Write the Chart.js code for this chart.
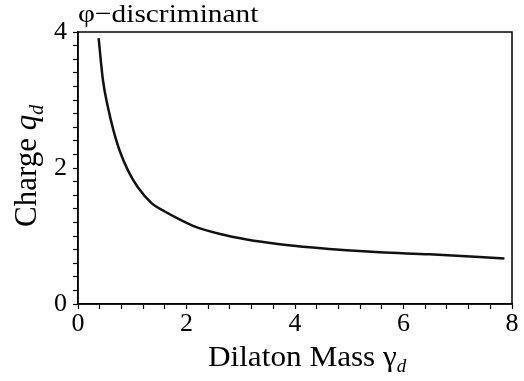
<!DOCTYPE html>
<html>
<head>
<meta charset="utf-8">
<script src="https://cdn.jsdelivr.net/npm/chart.js@4"></script>
<style>
  html, body { margin: 0; padding: 0; background: #fff; }
  #wrap { width: 524px; height: 381px; }
</style>
</head>
<body>
<div id="wrap"><canvas id="grafico"></canvas></div>
<script>
// dados
const massa = [0.38, 0.46, 0.55, 0.645, 0.77, 0.93, 1.10, 1.36, 1.60, 1.88, 2.12, 2.62, 3.11, 3.72, 4.33, 4.95, 5.56, 6.48, 7.86];
const carga = [3.91, 3.29, 2.90, 2.58, 2.25, 1.95, 1.72, 1.48, 1.36, 1.24, 1.15, 1.03, 0.95, 0.88, 0.83, 0.79, 0.76, 0.73, 0.67];
const ticksX = [0, 2, 4, 6, 8];
const ticksY = [0, 2, 4];
const titulo = "φ−discriminant";

const serif = '"Liberation Serif", "Times New Roman", serif';

// rotulo so nos ticks principais
const rotulo = (lista) => (v) => {
  const achou = lista.find((t) => Math.abs(t - v) < 1e-6);
  return achou === undefined ? "" : String(achou);
};

// texto esticado na horizontal (a figura original e mais larga)
function texto(ctx, s, x, y, sx) {
  ctx.save();
  ctx.translate(x, y);
  ctx.scale(sx, 1);
  ctx.fillText(s, 0, 0);
  ctx.restore();
  return ctx.measureText(s).width * sx;
}

// moldura + textos com subscrito
const extras = {
  id: "extras",
  afterDraw(chart) {
    const { ctx, chartArea: a } = chart;
    ctx.save();
    ctx.strokeStyle = "#000";
    ctx.lineWidth = 1.5;
    ctx.strokeRect(a.left, a.top, a.right - a.left, a.bottom - a.top);

    ctx.fillStyle = "#000";
    ctx.textBaseline = "alphabetic";
    ctx.textAlign = "left";

    // titulo
    ctx.font = "26px " + serif;
    texto(ctx, titulo, a.left, a.top - 10, 1.13);

    // titulo eixo x
    const x0 = a.left + 130;
    const yb = a.bottom + 62;
    ctx.font = "30px " + serif;
    const w = texto(ctx, "Dilaton Mass γ", x0, yb, 1.04);
    ctx.font = "italic 19px " + serif;
    ctx.fillText("d", x0 + w, yb + 6);

    // titulo eixo y
    ctx.translate(36, a.bottom - 77);
    ctx.rotate(-Math.PI / 2);
    ctx.font = "31px " + serif;
    ctx.fillText("Charge ", 0, 0);
    let p = ctx.measureText("Charge ").width;
    ctx.font = "italic 31px " + serif;
    ctx.fillText("q", p, 0);
    p += ctx.measureText("q").width;
    ctx.font = "italic 20px " + serif;
    ctx.fillText("d", p, 7);
    ctx.restore();
  }
};

const eixoBase = {
  type: "linear",
  grid: { drawOnChartArea: false, drawTicks: true, tickLength: 5, color: "#000", tickWidth: 1.2 },
  border: { display: true, color: "#000", width: 1.5 },
};

new Chart(document.getElementById("grafico"), {
  type: "line",
  data: {
    datasets: [
      {
        data: massa.map((m, i) => ({ x: m, y: carga[i] })),
        borderColor: "#111",
        borderWidth: 2.5,
        pointRadius: 0,
        fill: false,
        cubicInterpolationMode: "monotone",
      },
    ],
  },
  plugins: [extras],
  options: {
    responsive: true,
    maintainAspectRatio: false,
    animation: false,
    layout: { padding: { top: 32, right: 12, left: 0, bottom: 0 } },
    scales: {
      x: {
        ...eixoBase,
        min: 0,
        max: 8,
        ticks: {
          stepSize: 0.4,
          autoSkip: false,
          maxRotation: 0,
          padding: 0,
          color: "#000",
          font: { family: serif, size: 26 },
          callback: rotulo(ticksX),
        },
        afterFit: (s) => { s.height = 77; },
      },
      y: {
        ...eixoBase,
        min: 0,
        max: 4,
        ticks: {
          stepSize: 0.2,
          autoSkip: false,
          padding: 6,
          color: "#000",
          font: { family: serif, size: 26 },
          callback: rotulo(ticksY),
        },
        afterFit: (s) => { s.width = 78; },
      },
    },
    plugins: {
      legend: { display: false },
      tooltip: { enabled: false },
    },
  },
});
</script>
</body>
</html>
